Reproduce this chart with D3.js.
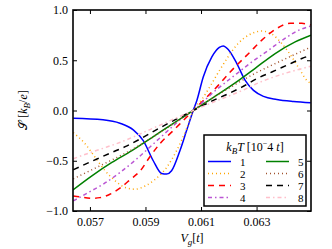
<!DOCTYPE html>
<html><head><meta charset="utf-8">
<script src="https://cdn.jsdelivr.net/npm/d3@7"></script>
<style>
body{margin:0;background:#fff;}
text{font-family:"Liberation Serif","DejaVu Serif",serif;}
</style></head>
<body><svg id="c" width="332" height="249"></svg>
<script>
const xTicks=[0.057,0.059,0.061,0.063];
const yTicks=[-1.0,-0.5,0.0,0.5,1.0];
const labels=["1","2","3","4","5","6","7","8"];
const colors=["#0000ff","#ffa500","#ff0000","#ba55d3","#008000","#a0522d","#000000","#ffc0cb"];
const dashes=[null,"1,3","6,5","4,3,1.5,3",null,"1,3","6,5","4,3,1.5,3"];
const s1=[[0.05640,-0.077],[0.05747,-0.093],[0.05808,-0.127],[0.05856,-0.193],[0.05892,-0.30],[0.05928,-0.50],[0.05958,-0.627],[0.05976,-0.633],[0.05994,-0.60],[0.06024,-0.40],[0.06048,-0.20],[0.06072,0.0],[0.06085,0.10],[0.06108,0.333],[0.06139,0.533],[0.06166,0.627],[0.06180,0.643],[0.06198,0.607],[0.06229,0.467],[0.06259,0.30],[0.06289,0.20],[0.06325,0.14],[0.06373,0.11],[0.06433,0.09],[0.06495,0.077]];
const s2=[[0.05640,-0.22],[0.05683,-0.333],[0.05719,-0.467],[0.05755,-0.60],[0.05791,-0.70],[0.05827,-0.767],[0.05863,-0.783],[0.05899,-0.75],[0.05928,-0.70],[0.05976,-0.567],[0.06012,-0.40],[0.06048,-0.18],[0.06072,0],[0.06103,0.11],[0.06139,0.27],[0.06169,0.41],[0.06234,0.667],[0.06271,0.75],[0.06319,0.79],[0.06355,0.76],[0.06391,0.667],[0.06427,0.533],[0.06457,0.40],[0.06481,0.30],[0.06495,0.27]];
const s3=[[0.05640,-0.85],[0.05664,-0.86],[0.05712,-0.873],[0.05736,-0.867],[0.05772,-0.833],[0.05808,-0.773],[0.05844,-0.69],[0.05881,-0.60],[0.05916,-0.46],[0.05952,-0.33],[0.06000,-0.20],[0.06036,-0.10],[0.06072,0],[0.06123,0.14],[0.06162,0.25],[0.06205,0.383],[0.06277,0.583],[0.06319,0.70],[0.06373,0.817],[0.06421,0.867],[0.06463,0.867],[0.06495,0.85]];
const s4=[[0.05640,-0.90],[0.05700,-0.807],[0.05748,-0.733],[0.05808,-0.617],[0.05868,-0.483],[0.05928,-0.333],[0.05988,-0.183],[0.06036,-0.067],[0.06072,0],[0.06144,0.18],[0.06229,0.367],[0.06283,0.483],[0.06343,0.60],[0.06397,0.707],[0.06445,0.79],[0.06495,0.84]];
const s5=[[0.05639,-0.79],[0.05707,-0.65],[0.05779,-0.517],[0.05851,-0.40],[0.05923,-0.27],[0.05988,-0.15],[0.06072,0],[0.06150,0.14],[0.06241,0.31],[0.06295,0.42],[0.06367,0.567],[0.06439,0.683],[0.06496,0.75]];
const s6=[[0.05640,-0.68],[0.05736,-0.55],[0.05844,-0.40],[0.05952,-0.22],[0.06072,0],[0.06187,0.20],[0.06295,0.37],[0.06385,0.49],[0.06495,0.63]];
const s7=[[0.05640,-0.59],[0.05671,-0.55],[0.05725,-0.483],[0.05779,-0.417],[0.05827,-0.36],[0.05881,-0.283],[0.05934,-0.20],[0.06036,-0.05],[0.06072,0],[0.06144,0.10],[0.06198,0.167],[0.06247,0.233],[0.06301,0.317],[0.06355,0.383],[0.06409,0.45],[0.06463,0.517],[0.06495,0.55]];
const s8=[[0.05640,-0.48],[0.05700,-0.42],[0.05754,-0.37],[0.05815,-0.31],[0.05916,-0.19],[0.06006,-0.08],[0.06072,0],[0.06150,0.09],[0.06241,0.19],[0.06320,0.29],[0.06403,0.37],[0.06495,0.44]];
const series=[s1,s2,s3,s4,s5,s6,s7,s8];

const svg=d3.select("#c");
const L=73,R=311,T=10,B=211;
const x=d3.scaleLinear().domain([0.05639,0.06496]).range([L,R]);
const y=d3.scaleLinear().domain([-1,1]).range([B,T]);

svg.append("defs").append("clipPath").attr("id","clip").append("rect")
  .attr("x",L).attr("y",T).attr("width",R-L).attr("height",B-T);

const line=d3.line().x(d=>x(d[0])).y(d=>y(d[1])).curve(d3.curveMonotoneX);
const g=svg.append("g").attr("clip-path","url(#clip)");
series.forEach((s,i)=>{
  g.append("path").datum(s).attr("d",line).attr("fill","none")
   .attr("stroke",colors[i]).attr("stroke-width",1.5)
   .attr("stroke-dasharray",dashes[i]);
});

function style(a){a.selectAll(".domain").remove();a.selectAll("line").attr("stroke","#000").attr("stroke-width",1);}
svg.append("g").attr("transform",`translate(0,${B})`)
  .call(d3.axisBottom(x).tickValues(xTicks).tickFormat(d3.format(".3f")).tickSize(-4).tickPadding(6))
  .call(style).selectAll("text").attr("font-size",12).attr("fill","#000");
svg.append("g").attr("transform",`translate(0,${T})`)
  .call(d3.axisTop(x).tickValues(xTicks).tickFormat("").tickSize(-4)).call(style);
svg.append("g").attr("transform",`translate(${L},0)`)
  .call(d3.axisLeft(y).tickValues(yTicks).tickFormat(d=>d3.format(".1f")(d).replace("-","\u2212")).tickSize(-4).tickPadding(5))
  .call(style).selectAll("text").attr("font-size",12).attr("fill","#000");
svg.append("g").attr("transform",`translate(${R},0)`)
  .call(d3.axisRight(y).tickValues(yTicks).tickFormat("").tickSize(-4)).call(style);

svg.append("rect").attr("x",L).attr("y",T).attr("width",R-L).attr("height",B-T)
  .attr("fill","none").attr("stroke","#000").attr("stroke-width",1.6);

// axis labels
const yl=svg.append("text").attr("transform","translate(27,110) rotate(-90)")
  .attr("text-anchor","middle").attr("font-size",12);
yl.append("tspan").text("\uD835\uDCAE");
yl.append("tspan").text(" [");
yl.append("tspan").attr("font-style","italic").text("k");
yl.append("tspan").attr("font-style","italic").attr("font-size",9).attr("dy",3).text("B");
yl.append("tspan").attr("dy",-3).text("/");
yl.append("tspan").attr("font-style","italic").text("e");
yl.append("tspan").text("]");

const xl=svg.append("text").attr("x",192).attr("y",242).attr("text-anchor","middle").attr("font-size",12);
xl.append("tspan").attr("font-style","italic").text("V");
xl.append("tspan").attr("font-style","italic").attr("font-size",9).attr("dy",3).text("g");
xl.append("tspan").attr("dy",-3).text("[");
xl.append("tspan").attr("font-style","italic").text("t");
xl.append("tspan").text("]");

// legend
const lg=svg.append("g");
lg.append("rect").attr("x",204).attr("y",135).attr("width",102).attr("height",71)
  .attr("fill","#fff").attr("stroke","#000").attr("stroke-width",1.5);
const tt=lg.append("text").attr("x",255).attr("y",151).attr("text-anchor","middle").attr("font-size",12);
tt.append("tspan").attr("font-style","italic").text("k");
tt.append("tspan").attr("font-style","italic").attr("font-size",9).attr("dy",3).text("B");
tt.append("tspan").attr("font-style","italic").attr("dy",-3).text("T");
tt.append("tspan").text(" [10");
tt.append("tspan").attr("font-size",8).attr("dy",-5).text("\u2212");
tt.append("tspan").attr("dy",5).text("4");
tt.append("tspan").attr("font-style","italic").text(" t");
tt.append("tspan").text("]");
labels.forEach((lab,i)=>{
  const col=Math.floor(i/4), row=i%4;
  const x0=col?266:208, yy=161.5+row*12;
  lg.append("line").attr("x1",x0).attr("x2",x0+23).attr("y1",yy).attr("y2",yy)
    .attr("stroke",colors[i]).attr("stroke-width",1.5).attr("stroke-dasharray",dashes[i]);
  lg.append("text").attr("x",x0+32).attr("y",yy+4).attr("font-size",11).text(lab);
});
</script></body></html>
